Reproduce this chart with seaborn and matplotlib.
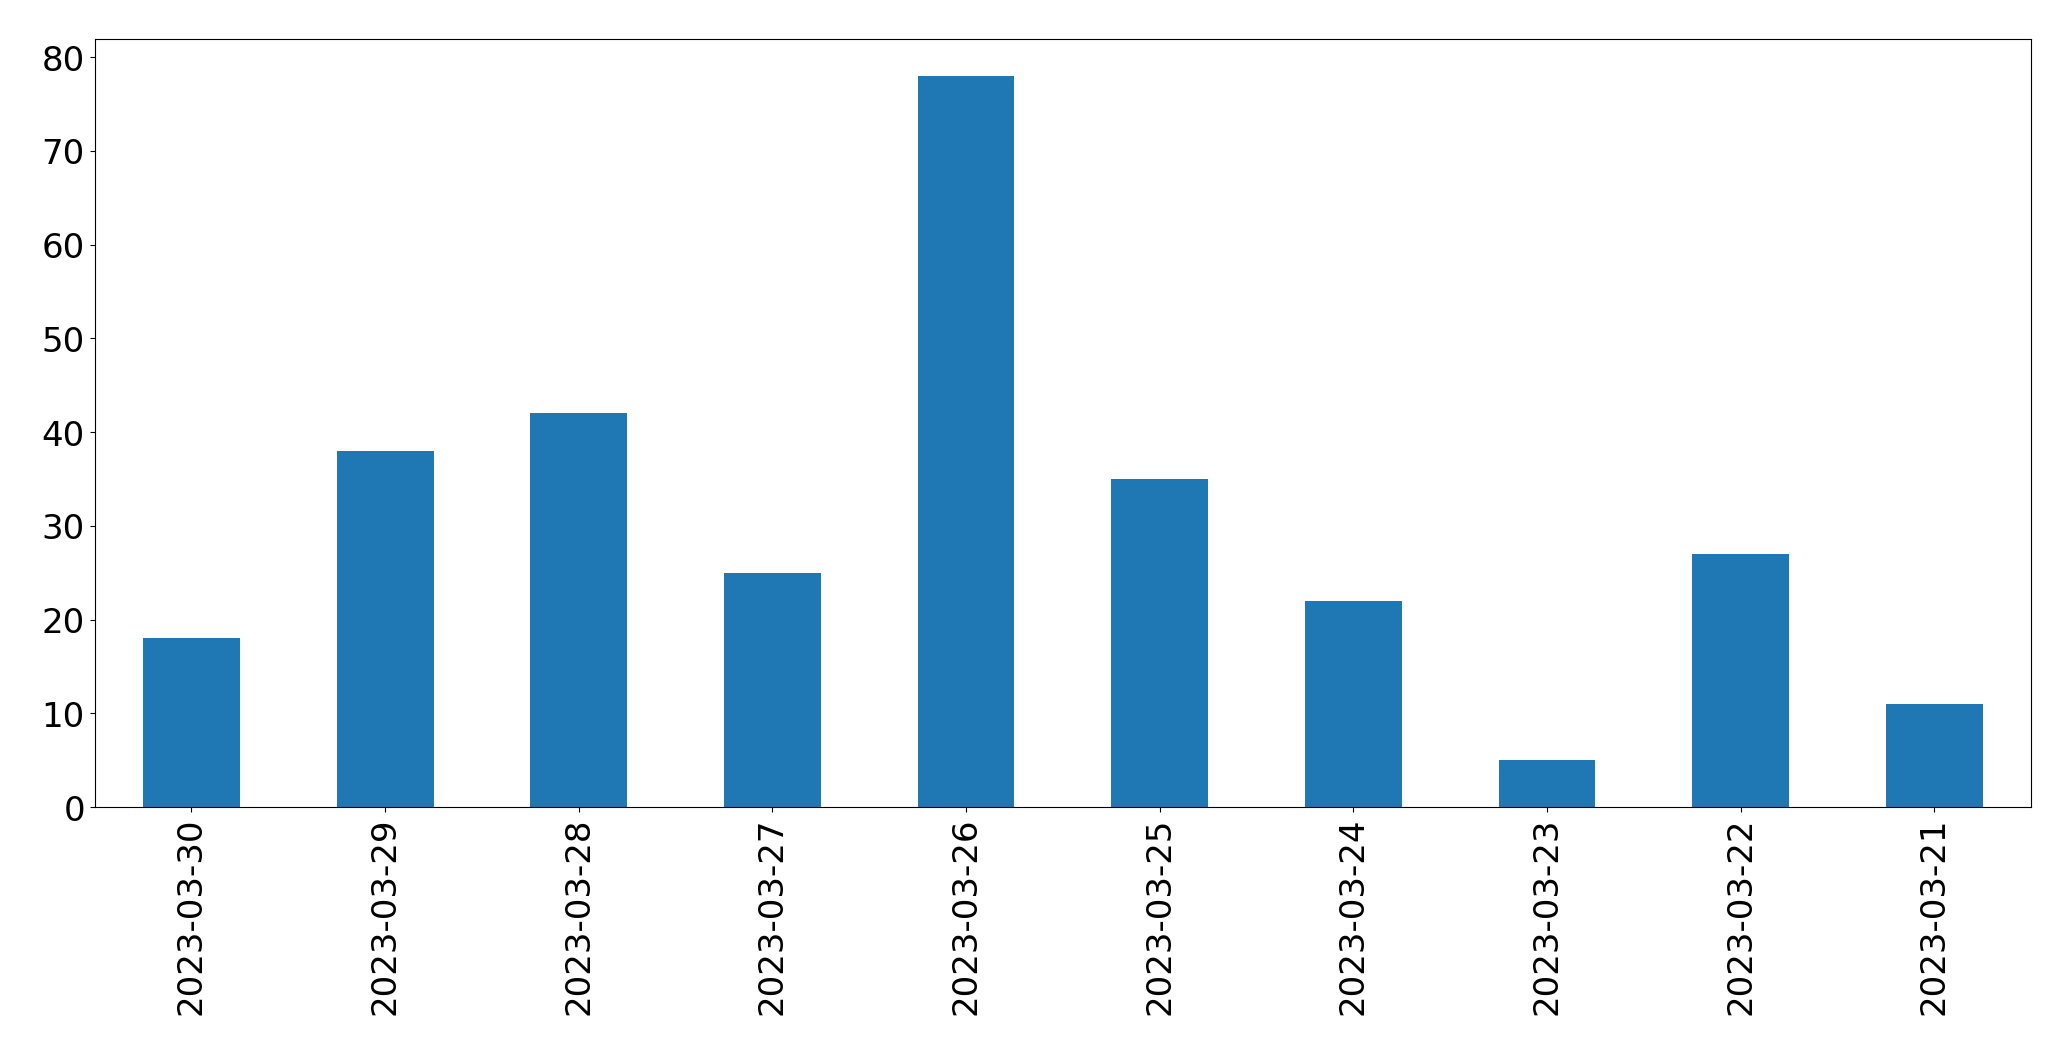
import matplotlib
matplotlib.use('Agg')
import matplotlib.pyplot as plt
import seaborn as sns
import pandas as pd

# dates and counts
dates = ['2023-03-30', '2023-03-29', '2023-03-28', '2023-03-27', '2023-03-26',
         '2023-03-25', '2023-03-24', '2023-03-23', '2023-03-22', '2023-03-21']
counts = [18, 38, 42, 25, 78, 35, 22, 5, 27, 11]

df = pd.DataFrame({'date': dates, 'count': counts})

plt.rcParams['font.family'] = ['DejaVu Sans']

fig, ax = plt.subplots(figsize=(20.71, 10.605), dpi=100)
fig.subplots_adjust(left=0.0457, right=0.9807, top=0.9625, bottom=0.2385)

sns.barplot(data=df, x='date', y='count', color='#1f77b4', saturation=1,
            width=0.5, ax=ax, order=dates, linewidth=0)
ax.set_xlim(-0.5, len(dates) - 0.5)
ax.set_ylim(0, max(counts) * 1.05)
ax.set_xlabel('')
ax.set_ylabel('')
ax.tick_params(axis='both', labelsize=24.5, colors='black')
plt.setp(ax.get_xticklabels(), rotation=90)

fig.savefig('out.png', dpi=100)
